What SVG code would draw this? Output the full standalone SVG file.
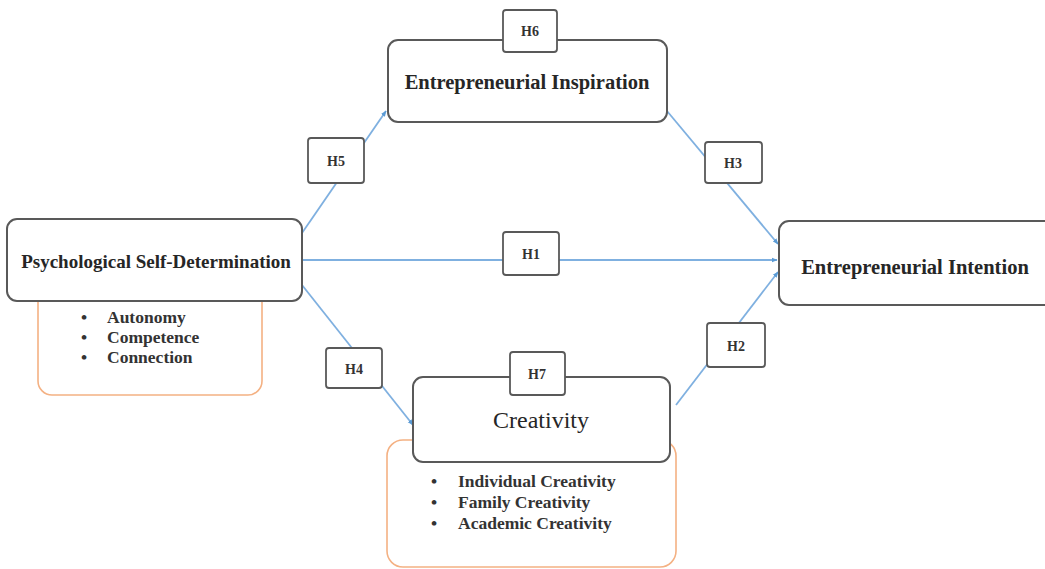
<svg xmlns="http://www.w3.org/2000/svg" width="1045" height="569" viewBox="0 0 1045 569">
  <defs>
    <marker id="arrow" viewBox="0 0 10 10" refX="9" refY="5" markerWidth="6" markerHeight="6" orient="auto" markerUnits="userSpaceOnUse">
      <path d="M0,1 L10,5 L0,9 z" fill="#5b9bd5"/>
    </marker>
    <style>
      .node { fill: #ffffff; stroke: #595959; stroke-width: 2; }
      .dim { fill: #ffffff; stroke: #f4b183; stroke-width: 1.6; }
      .hyp { fill: #ffffff; stroke: #595959; stroke-width: 1.8; }
      text { font-family: "Liberation Serif", "DejaVu Serif", "Times New Roman", serif; }
      .title { font-weight: bold; fill: #262626; text-anchor: middle; }
      .hlabel { font-weight: bold; font-size: 14px; fill: #333333; text-anchor: middle; }
      .item { font-weight: bold; font-size: 17.5px; fill: #333333; }
      .edge { stroke: #7fb0e0; stroke-width: 1.8; fill: none; marker-end: url(#arrow); }
    </style>
  </defs>
  <rect width="1045" height="569" fill="#ffffff"/>

  <!-- dimension panels behind the main nodes -->
  <g id="psd-dimensions">
    <rect class="dim" x="38" y="270" width="224" height="125" rx="14"/>
    <text class="item" x="81" y="323">•</text>
    <text class="item" x="107" y="323">Autonomy</text>
    <text class="item" x="81" y="343">•</text>
    <text class="item" x="107" y="343">Competence</text>
    <text class="item" x="81" y="363">•</text>
    <text class="item" x="107" y="363">Connection</text>
  </g>
  <g id="creativity-dimensions">
    <rect class="dim" x="387" y="440" width="289" height="127" rx="16"/>
    <text class="item" x="431" y="487">•</text>
    <text class="item" x="458" y="487">Individual Creativity</text>
    <text class="item" x="431" y="508">•</text>
    <text class="item" x="458" y="508">Family Creativity</text>
    <text class="item" x="431" y="529">•</text>
    <text class="item" x="458" y="529">Academic Creativity</text>
  </g>

  <!-- connectors -->
  <g id="connectors">
    <line class="edge" x1="302" y1="233" x2="386" y2="111"/>
    <line class="edge" x1="667" y1="111" x2="778" y2="244"/>
    <line class="edge" x1="302" y1="260" x2="777" y2="260"/>
    <line class="edge" x1="302" y1="285" x2="413" y2="425"/>
    <line class="edge" x1="676" y1="405" x2="778" y2="272"/>
  </g>

  <!-- main nodes -->
  <g id="entrepreneurial-inspiration">
    <rect class="node" x="388" y="40" width="279" height="82" rx="10"/>
    <text class="title" x="527" y="89" font-size="20.5">Entrepreneurial Inspiration</text>
  </g>
  <g id="psychological-self-determination">
    <rect class="node" x="7" y="219" width="295" height="82" rx="10"/>
    <text class="title" x="156" y="268" font-size="19">Psychological Self-Determination</text>
  </g>
  <g id="entrepreneurial-intention">
    <rect class="node" x="779" y="221" width="280" height="84" rx="10"/>
    <text class="title" x="915" y="274" font-size="20.5">Entrepreneurial Intention</text>
  </g>
  <g id="creativity">
    <rect class="node" x="413" y="377" width="257" height="85" rx="10"/>
    <text class="title" x="541" y="428" font-size="24" style="font-weight: normal">Creativity</text>
  </g>

  <!-- hypothesis labels -->
  <g id="h6">
    <rect class="hyp" x="503" y="10" width="54" height="42" rx="3"/>
    <text class="hlabel" x="530" y="36">H6</text>
  </g>
  <g id="h5">
    <rect class="hyp" x="308" y="138" width="56" height="45" rx="3"/>
    <text class="hlabel" x="336" y="166">H5</text>
  </g>
  <g id="h3">
    <rect class="hyp" x="705" y="142" width="57" height="41" rx="3"/>
    <text class="hlabel" x="733" y="168">H3</text>
  </g>
  <g id="h1">
    <rect class="hyp" x="503" y="232" width="56" height="43" rx="3"/>
    <text class="hlabel" x="531" y="259">H1</text>
  </g>
  <g id="h2">
    <rect class="hyp" x="707" y="323" width="58" height="44" rx="3"/>
    <text class="hlabel" x="736" y="351">H2</text>
  </g>
  <g id="h4">
    <rect class="hyp" x="326" y="348" width="56" height="40" rx="3"/>
    <text class="hlabel" x="354" y="374">H4</text>
  </g>
  <g id="h7">
    <rect class="hyp" x="510" y="352" width="55" height="43" rx="3"/>
    <text class="hlabel" x="537" y="379">H7</text>
  </g>
</svg>
